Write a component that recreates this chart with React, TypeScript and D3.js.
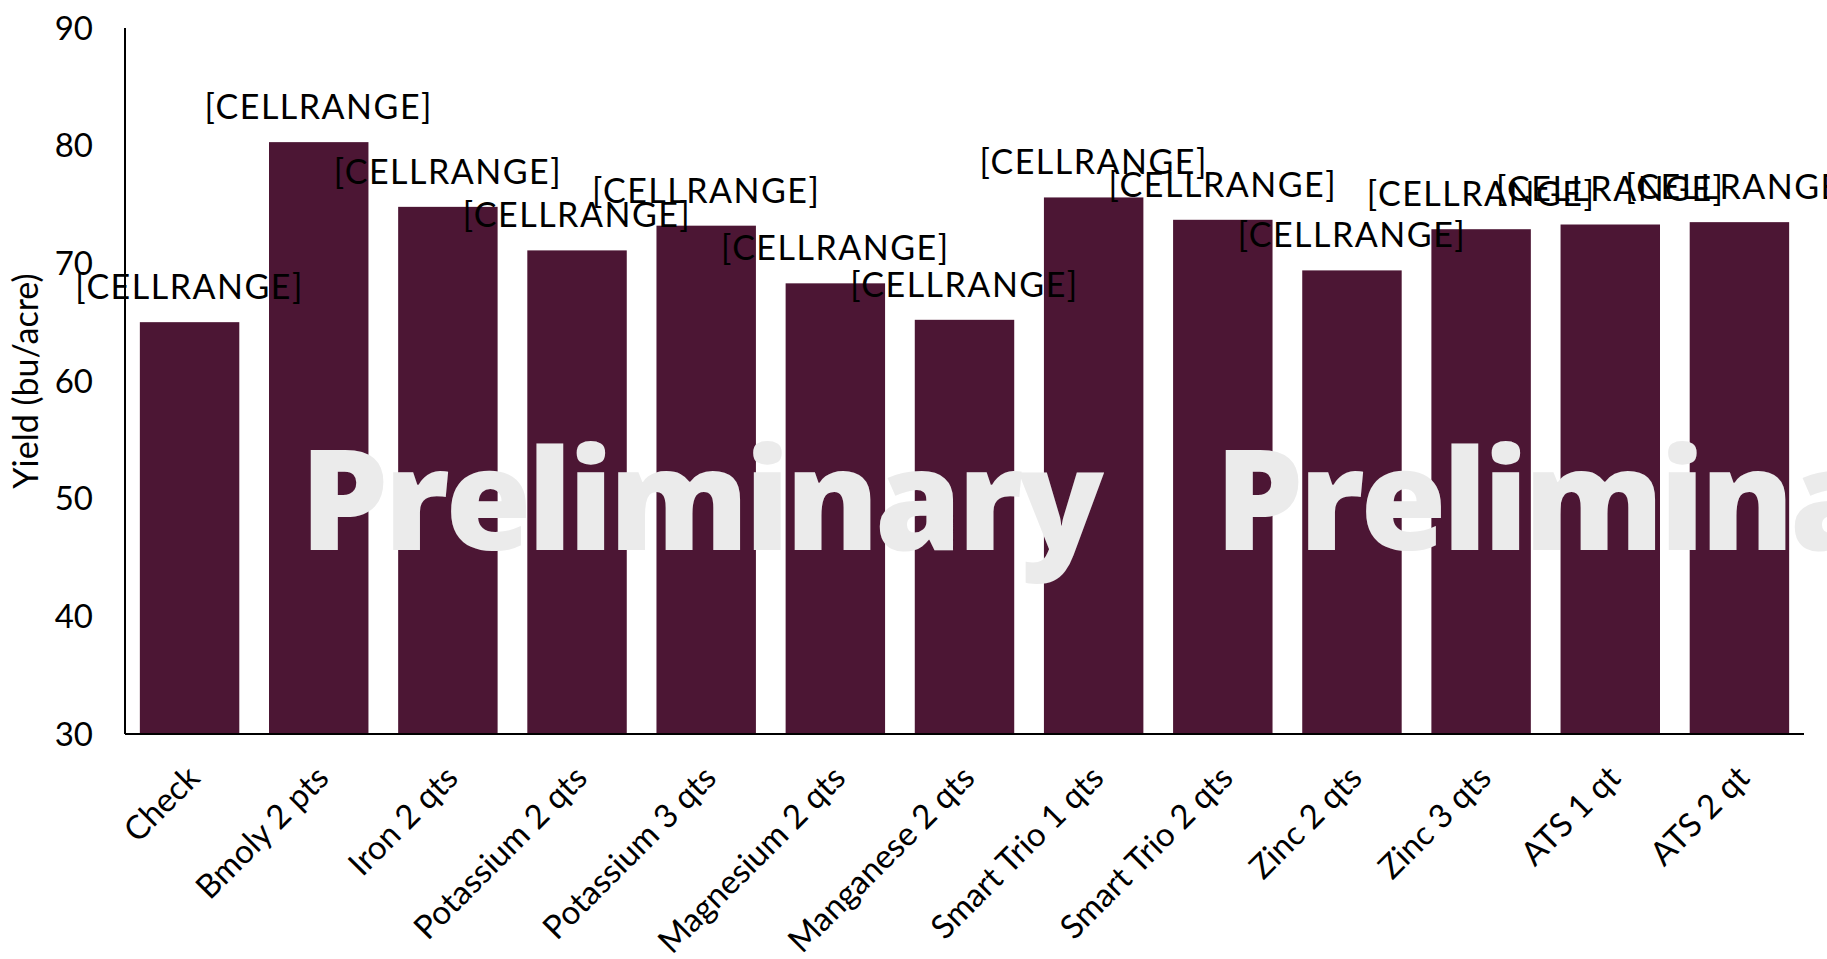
import React from "react";
import * as d3 from "d3";

const categories = [
  "Check",
  "Bmoly 2 pts",
  "Iron 2 qts",
  "Potassium 2 qts",
  "Potassium 3 qts",
  "Magnesium 2 qts",
  "Manganese 2 qts",
  "Smart Trio 1 qts",
  "Smart Trio 2 qts",
  "Zinc 2 qts",
  "Zinc 3 qts",
  "ATS 1 qt",
  "ATS 2 qt",
];
const yieldValues = [65.0, 80.3, 74.8, 71.1, 73.2, 68.3, 65.2, 75.6, 73.7, 69.4, 72.9, 73.3, 73.5];
const dataLabels = categories.map(() => "[CELLRANGE]");
const yTicks = [30, 40, 50, 60, 70, 80, 90];
const watermarks = ["Preliminary", "Preliminary"];

const W = 1827;
const H = 959;
const M = { top: 28, right: 23, bottom: 225, left: 125 };
const FONT = "Lato, 'Open Sans', sans-serif";
const BAR = "#4c1634";

export default function App() {
  const innerW = W - M.left - M.right;
  const innerH = H - M.top - M.bottom;

  const x = d3.scaleBand<string>().domain(categories).range([0, innerW]).paddingInner(0.23).paddingOuter(0.115);
  const y = d3.scaleLinear().domain([30, 90]).range([innerH, 0]);

  return (
    <svg width={W} height={H} style={{ position: "absolute", left: 0, top: 0, background: "#fff" }}>
      <g transform={`translate(${M.left},${M.top})`}>
        {/* bars */}
        {categories.map((c, i) => (
          <rect
            key={c}
            x={x(c)}
            y={y(yieldValues[i])}
            width={x.bandwidth()}
            height={innerH - y(yieldValues[i])}
            fill={BAR}
          />
        ))}

        {/* watermark */}
        {watermarks.map((t, i) => (
          <text
            key={i}
            x={175 + i * 915}
            y={522}
            fontFamily="'Open Sans', sans-serif"
            fontWeight={800}
            fontSize={140}
            letterSpacing={-4.5}
            fill="#ebebeb"
          >
            {t}
          </text>
        ))}

        {/* axes */}
        <line x1={0} x2={0} y1={0} y2={innerH} stroke="#000" strokeWidth={2} />
        <line x1={0} x2={innerW} y1={innerH} y2={innerH} stroke="#000" strokeWidth={2} />

        {yTicks.map((t) => (
          <text key={t} x={-32} y={y(t)} dy="0.35em" textAnchor="end" fontFamily={FONT} fontSize={33} fill="#000">
            {t}
          </text>
        ))}

        <text
          transform={`translate(${-99},${innerH / 2}) rotate(-90)`}
          textAnchor="middle"
          dy="0.35em"
          fontFamily={FONT}
          fontSize={34}
          fill="#000"
        >
          Yield (bu/acre)
        </text>

        {/* category labels */}
        {categories.map((c) => {
          const cx = (x(c) ?? 0) + x.bandwidth() / 2 + 12;
          return (
            <text
              key={c}
              transform={`translate(${cx},${innerH + 46}) rotate(-45)`}
              textAnchor="end"
              fontFamily={FONT}
              fontSize={33}
              fill="#000"
            >
              {c}
            </text>
          );
        })}

        {/* data labels */}
        {categories.map((c, i) => (
          <text
            key={c}
            x={(x(c) ?? 0) + x.bandwidth() / 2}
            y={y(yieldValues[i]) - 35}
            dy="0.35em"
            textAnchor="middle"
            fontFamily={FONT}
            fontSize={34}
            letterSpacing={1.5}
            fill="#000"
          >
            {dataLabels[i]}
          </text>
        ))}
      </g>
    </svg>
  );
}
